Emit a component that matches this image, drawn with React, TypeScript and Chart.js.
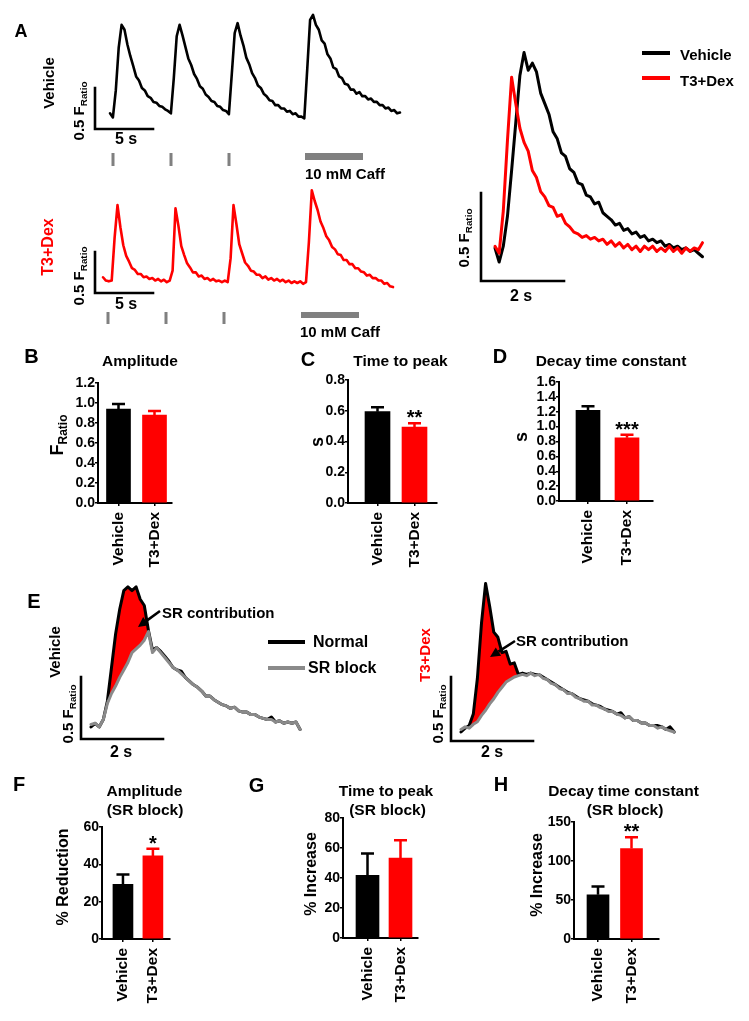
import React, { useEffect, useRef } from "react";
import { Chart, registerables } from "chart.js";

Chart.register(...registerables);

const FONT = '"Liberation Sans", Arial, Helvetica, sans-serif';

// ---------------- Data ----------------
const GROUPS = ["Vehicle", "T3+Dex"];
const GROUP_COLORS = ["#000000", "#ff0000"];

// Panel A: field-stimulated transients + caffeine (sampled every 0.25 s, F_ratio above baseline)
const LONG_DT = 0.25;
const VEH_LONG = [
  0.02, -0.03, 0.30, 0.82, 1.10, 1.04, 0.86, 0.72, 0.60, 0.47, 0.42, 0.33,
  0.30, 0.23, 0.21, 0.16, 0.15, 0.11, 0.10, 0.07, 0.05, 0.02, 0.45, 0.96,
  1.10, 0.97, 0.83, 0.69, 0.61, 0.50, 0.44, 0.35, 0.32, 0.25, 0.22, 0.17,
  0.16, 0.11, 0.10, 0.06, 0.05, 0.01, 0.50, 1.00, 1.12, 0.97, 0.85, 0.70,
  0.62, 0.51, 0.45, 0.36, 0.33, 0.26, 0.23, 0.18, 0.17, 0.12, 0.12, 0.08,
  0.08, 0.04, 0.05, 0.01, 0.02, -0.02, -0.02, -0.04, 0.55, 1.16, 1.22, 1.10,
  1.04, 0.91, 0.87, 0.74, 0.69, 0.58, 0.56, 0.47, 0.45, 0.38, 0.37, 0.31,
  0.31, 0.26, 0.28, 0.23, 0.23, 0.19, 0.20, 0.16, 0.16, 0.12, 0.12, 0.08,
  0.09, 0.05, 0.06, 0.02, 0.03,
];
const T3_LONG = [
  0.07, 0.03, 0.02, 0.03, 0.55, 0.95, 0.68, 0.46, 0.33, 0.26, 0.18, 0.16,
  0.11, 0.11, 0.07, 0.08, 0.05, 0.06, 0.03, 0.05, 0.02, 0.04, 0.01, 0.03,
  0.15, 0.91, 0.70, 0.45, 0.34, 0.24, 0.19, 0.13, 0.13, 0.08, 0.09, 0.05,
  0.06, 0.03, 0.05, 0.02, 0.03, 0.01, 0.03, 0.01, 0.30, 0.95, 0.72, 0.47,
  0.36, 0.25, 0.21, 0.15, 0.14, 0.10, 0.10, 0.06, 0.08, 0.04, 0.06, 0.03,
  0.05, 0.02, 0.04, 0.01, 0.03, 0.00, 0.02, 0.00, 0.02, -0.01, 0.01, 0.50,
  1.13, 1.00, 0.89, 0.75, 0.67, 0.57, 0.52, 0.44, 0.41, 0.35, 0.34, 0.28,
  0.28, 0.23, 0.23, 0.18, 0.18, 0.14, 0.13, 0.09, 0.10, 0.06, 0.06, 0.03,
  0.03, -0.01, 0.00, -0.04, -0.05,
];

// Panel A right: averaged transients overlay (every 0.1 s)
const OVERLAY_DT = 0.1;
const VEH_OVERLAY = [
  0.04, -0.04, 0.05, 0.22, 0.48, 0.75, 1.02, 1.15, 1.05, 1.09,
  1.04, 0.92, 0.86, 0.80, 0.70, 0.66, 0.58, 0.56, 0.49, 0.47,
  0.41, 0.40, 0.34, 0.33, 0.29, 0.30, 0.24, 0.22, 0.20, 0.17,
  0.18, 0.14, 0.15, 0.12, 0.13, 0.10, 0.11, 0.08, 0.09, 0.07,
  0.08, 0.05, 0.06, 0.04, 0.05, 0.03, 0.04, 0.02, 0.03, 0.01, -0.01,
];
const T3_OVERLAY = [
  0.05, 0.01, 0.25, 0.65, 1.01, 0.86, 0.72, 0.64, 0.59, 0.48,
  0.44, 0.36, 0.33, 0.28, 0.27, 0.22, 0.23, 0.18, 0.16, 0.13,
  0.12, 0.10, 0.11, 0.09, 0.10, 0.08, 0.09, 0.06, 0.08, 0.05,
  0.07, 0.04, 0.06, 0.03, 0.05, 0.02, 0.05, 0.03, 0.05, 0.02,
  0.04, 0.02, 0.05, 0.02, 0.04, 0.01, 0.04, 0.02, 0.04, 0.03, 0.07,
];

// Panel E: normal vs SR block (every 0.1 s)
const SR_DT = 0.1;
const VEH_NORMAL = [
  0.00, 0.03, 0.00, 0.06, 0.21, 0.48, 0.75, 0.95, 1.10, 1.13,
  1.10, 1.13, 1.03, 0.98, 0.78, 0.62, 0.64, 0.61, 0.57, 0.53,
  0.48, 0.46, 0.45, 0.40, 0.37, 0.34, 0.32, 0.29, 0.25, 0.25,
  0.22, 0.20, 0.18, 0.17, 0.15, 0.16, 0.13, 0.12, 0.12, 0.10,
  0.10, 0.08, 0.07, 0.06, 0.08, 0.04, 0.05, 0.03, 0.04, 0.03,
  0.04, -0.02,
];
const VEH_SRBLOCK = [
  0.02, 0.03, 0.00, 0.06, 0.19, 0.27, 0.33, 0.40, 0.46, 0.52,
  0.60, 0.63, 0.66, 0.70, 0.77, 0.60, 0.64, 0.60, 0.56, 0.52,
  0.48, 0.46, 0.43, 0.40, 0.37, 0.34, 0.32, 0.29, 0.25, 0.25,
  0.22, 0.20, 0.18, 0.17, 0.15, 0.16, 0.13, 0.12, 0.12, 0.10,
  0.10, 0.08, 0.07, 0.06, 0.06, 0.04, 0.05, 0.03, 0.04, 0.03,
  0.04, -0.02,
];
const T3_NORMAL = [
  0.00, 0.03, 0.05, 0.14, 0.42, 0.85, 1.16, 0.98, 0.78, 0.74,
  0.62, 0.63, 0.53, 0.54, 0.45, 0.46, 0.45, 0.46, 0.45, 0.45,
  0.43, 0.41, 0.39, 0.37, 0.35, 0.33, 0.31, 0.30, 0.28, 0.26,
  0.25, 0.24, 0.22, 0.21, 0.20, 0.18, 0.17, 0.16, 0.14, 0.15,
  0.11, 0.12, 0.09, 0.09, 0.07, 0.07, 0.05, 0.05, 0.05, 0.04,
  0.02, 0.04, 0.00,
];
const T3_SRBLOCK = [
  0.02, 0.04, 0.03, 0.06, 0.08, 0.13, 0.17, 0.22, 0.26, 0.31,
  0.35, 0.39, 0.41, 0.43, 0.44, 0.45, 0.44, 0.46, 0.44, 0.45,
  0.42, 0.41, 0.38, 0.37, 0.34, 0.33, 0.30, 0.30, 0.27, 0.26,
  0.24, 0.24, 0.21, 0.21, 0.19, 0.18, 0.16, 0.16, 0.14, 0.13,
  0.11, 0.12, 0.09, 0.09, 0.07, 0.07, 0.05, 0.05, 0.03, 0.04,
  0.02, 0.01, 0.00,
];

// Bar panels (mean, SEM) for [Vehicle, T3+Dex]
const AMP_MEAN = [0.94, 0.88];
const AMP_SEM = [0.05, 0.04];
const TTP_MEAN = [0.594, 0.494];
const TTP_SEM = [0.028, 0.024];
const TAU_MEAN = [1.22, 0.85];
const TAU_SEM = [0.055, 0.04];
const SR_AMP_MEAN = [29.3, 44.5];
const SR_AMP_SEM = [5.3, 3.8];
const SR_TTP_MEAN = [41.8, 53.3];
const SR_TTP_SEM = [14.5, 11.8];
const SR_TAU_MEAN = [56.7, 116];
const SR_TAU_SEM = [10.7, 14.4];

// ---------------- Components ----------------
type Box = { left: number; top: number; width: number; height: number };
type Series = { values: number[]; color: string; width: number; order: number; fillTo?: number; fillColor?: string };

function TraceChart(props: { box: Box; originX: number; originY: number; ppx: number; ppy: number; dt: number; series: Series[] }) {
  const ref = useRef<HTMLCanvasElement | null>(null);
  const { box } = props;
  useEffect(() => {
    const { originX, originY, ppx, ppy, dt, series } = props;
    const pad = 6;
    const xMin = (box.left + pad - originX) / ppx;
    const xMax = (box.left + box.width - pad - originX) / ppx;
    const yMax = (originY - (box.top + pad)) / ppy;
    const yMin = (originY - (box.top + box.height - pad)) / ppy;
    const chart = new Chart(ref.current as HTMLCanvasElement, {
      type: "line",
      data: {
        datasets: series.map((s) => ({
          data: s.values.map((v, i) => ({ x: i * dt, y: v })),
          borderColor: s.color,
          borderWidth: s.width,
          pointRadius: 0,
          tension: 0,
          borderJoinStyle: "round",
          borderCapStyle: "round",
          order: s.order,
          backgroundColor: s.fillColor || "transparent",
          fill: s.fillTo !== undefined ? { target: s.fillTo, above: s.fillColor, below: "rgba(0,0,0,0)" } : false,
        })) as any,
      },
      options: {
        animation: false,
        responsive: false,
        devicePixelRatio: 1,
        events: [],
        layout: { padding: pad },
        scales: {
          x: { type: "linear", display: false, min: xMin, max: xMax },
          y: { type: "linear", display: false, min: yMin, max: yMax },
        },
        plugins: {
          legend: { display: false },
          tooltip: { enabled: false },
          filler: { drawTime: "beforeDatasetsDraw" } as any,
        },
      } as any,
    });
    return () => chart.destroy();
  }, []);
  return (
    <canvas
      ref={ref}
      width={box.width}
      height={box.height}
      style={{ position: "absolute", left: box.left, top: box.top, width: box.width, height: box.height }}
    />
  );
}

type BarSpec = {
  canvas: Box;
  area: { left: number; top: number; right: number; bottom: number };
  centers: number[];
  barWidth: number;
  yMax: number;
  yStep: number;
  decimals: number;
  means: number[];
  sems: number[];
  stars: string[];
  yTitle: { text: string; sub?: string; x: number; y: number; size: number };
};

function BarChart({ spec }: { spec: BarSpec }) {
  const ref = useRef<HTMLCanvasElement | null>(null);
  const c = spec.canvas;
  useEffect(() => {
    const a = spec.area;
    const padTop = a.top - c.top;
    const padRight = c.left + c.width - a.right;
    const yw = a.left - c.left;
    const xh = c.top + c.height - a.bottom;
    const ppu = spec.centers[1] - spec.centers[0];
    const xMin = 1 - (spec.centers[0] - a.left) / ppu;
    const xMax = 2 + (a.right - spec.centers[1]) / ppu;

    const extras = {
      id: "barExtras",
      afterDatasetsDraw(chart: any) {
        const ctx = chart.ctx as CanvasRenderingContext2D;
        const meta = chart.getDatasetMeta(0);
        const ys = chart.scales.y;
        spec.means.forEach((m, i) => {
          const el = meta.data[i];
          const x = el.x;
          const yTop = ys.getPixelForValue(m);
          const yErr = ys.getPixelForValue(m + spec.sems[i]);
          ctx.save();
          ctx.strokeStyle = GROUP_COLORS[i];
          ctx.lineWidth = 2.5;
          ctx.beginPath();
          ctx.moveTo(x, yTop);
          ctx.lineTo(x, yErr);
          ctx.moveTo(x - 6.5, yErr);
          ctx.lineTo(x + 6.5, yErr);
          ctx.stroke();
          if (spec.stars[i]) {
            ctx.fillStyle = "#000";
            ctx.font = `bold 20px ${FONT}`;
            ctx.textAlign = "center";
            ctx.textBaseline = "alphabetic";
            ctx.fillText(spec.stars[i], x, yErr + 1);
          }
          ctx.restore();
        });
      },
      afterDraw(chart: any) {
        const ctx = chart.ctx as CanvasRenderingContext2D;
        const t = spec.yTitle;
        ctx.save();
        ctx.translate(t.x - c.left, t.y - c.top);
        ctx.rotate(-Math.PI / 2);
        ctx.fillStyle = "#000";
        ctx.font = `bold ${t.size}px ${FONT}`;
        const w1 = ctx.measureText(t.text).width;
        const subSize = Math.round(t.size * 0.65);
        let w2 = 0;
        if (t.sub) {
          ctx.font = `bold ${subSize}px ${FONT}`;
          w2 = ctx.measureText(t.sub).width;
        }
        const x0 = -(w1 + w2) / 2;
        ctx.textAlign = "left";
        ctx.textBaseline = "middle";
        ctx.font = `bold ${t.size}px ${FONT}`;
        ctx.fillText(t.text, x0, 0);
        if (t.sub) {
          ctx.font = `bold ${subSize}px ${FONT}`;
          ctx.fillText(t.sub, x0 + w1, t.size * 0.32);
        }
        ctx.restore();
      },
    };

    const chart = new Chart(ref.current as HTMLCanvasElement, {
      type: "bar",
      data: {
        datasets: [
          {
            data: spec.means.map((m, i) => ({ x: i + 1, y: m })),
            backgroundColor: GROUP_COLORS,
            borderWidth: 0,
            barThickness: spec.barWidth,
          },
        ] as any,
      },
      options: {
        animation: false,
        responsive: false,
        devicePixelRatio: 1,
        events: [],
        layout: { padding: { top: padTop, right: padRight, left: 0, bottom: 0 } },
        scales: {
          x: {
            type: "linear",
            offset: false,
            min: xMin,
            max: xMax,
            grid: { display: true, drawOnChartArea: false, drawTicks: true, tickLength: 3, color: "#000", lineWidth: 1.5, offset: false },
            border: { display: true, color: "#000", width: 2 },
            afterBuildTicks: (s: any) => {
              s.ticks = [{ value: 1 }, { value: 2 }];
            },
            afterFit: (s: any) => {
              s.height = xh;
            },
            ticks: {
              autoSkip: false,
              minRotation: 90,
              maxRotation: 90,
              padding: 6,
              color: "#000",
              font: { family: FONT, size: 15.5, weight: "bold" },
              callback: (_v: any, i: number) => GROUPS[i],
            },
          },
          y: {
            min: 0,
            max: spec.yMax,
            afterFit: (s: any) => {
              s.width = yw;
            },
            grid: { display: true, drawOnChartArea: false, drawTicks: true, tickLength: 3, color: "#000", lineWidth: 1.5 },
            border: { display: true, color: "#000", width: 2 },
            ticks: {
              stepSize: spec.yStep,
              autoSkip: false,
              padding: 0,
              color: "#000",
              font: { family: FONT, size: 14, weight: "bold" },
              callback: (v: any) => Number(v).toFixed(spec.decimals),
            },
          },
        },
        plugins: { legend: { display: false }, tooltip: { enabled: false } },
      } as any,
      plugins: [extras],
    });
    return () => chart.destroy();
  }, []);
  return (
    <canvas
      ref={ref}
      width={c.width}
      height={c.height}
      style={{ position: "absolute", left: c.left, top: c.top, width: c.width, height: c.height }}
    />
  );
}

function Lbl(props: { x: number; y: number; text: string; size?: number; color?: string; anchor?: "center" | "left"; rot?: boolean; sub?: string }) {
  const { x, y, text, size = 15, color = "#000", anchor = "center", rot = false, sub } = props;
  const tr = `translate(${anchor === "center" ? "-50%" : "0"}, -50%)${rot ? " rotate(-90deg)" : ""}`;
  return (
    <div
      style={{
        position: "absolute",
        left: x,
        top: y,
        transform: tr,
        transformOrigin: anchor === "center" ? "50% 50%" : "0 50%",
        whiteSpace: "nowrap",
        fontFamily: FONT,
        fontWeight: "bold",
        fontSize: size,
        lineHeight: 1,
        color,
      }}
    >
      {text}
      {sub ? <span style={{ fontSize: "0.66em", position: "relative", top: "0.35em" }}>{sub}</span> : null}
    </div>
  );
}

function Arrow({ x1, y1, x2, y2 }: { x1: number; y1: number; x2: number; y2: number }) {
  const dx = x2 - x1;
  const dy = y2 - y1;
  const len = Math.hypot(dx, dy);
  const ux = dx / len;
  const uy = dy / len;
  const bx = x2 - ux * 10;
  const by = y2 - uy * 10;
  const nx = -uy * 5;
  const ny = ux * 5;
  return (
    <g>
      <line x1={x1} y1={y1} x2={bx} y2={by} stroke="#000" strokeWidth={2.5} />
      <polygon points={`${x2},${y2} ${bx + nx},${by + ny} ${bx - nx},${by - ny}`} fill="#000" />
    </g>
  );
}

const BAR_B: BarSpec = {
  canvas: { left: 40, top: 370, width: 145, height: 210 },
  area: { left: 98, top: 383, right: 172, bottom: 503 },
  centers: [118.5, 154.5],
  barWidth: 24,
  yMax: 1.2,
  yStep: 0.2,
  decimals: 1,
  means: AMP_MEAN,
  sems: AMP_SEM,
  stars: ["", ""],
  yTitle: { text: "F", sub: "Ratio", x: 58, y: 435, size: 18 },
};
const BAR_C: BarSpec = {
  canvas: { left: 300, top: 365, width: 150, height: 215 },
  area: { left: 348, top: 380, right: 437, bottom: 503 },
  centers: [377.5, 414.5],
  barWidth: 25,
  yMax: 0.8,
  yStep: 0.2,
  decimals: 1,
  means: TTP_MEAN,
  sems: TTP_SEM,
  stars: ["", "**"],
  yTitle: { text: "s", x: 318, y: 442, size: 18 },
};
const BAR_D: BarSpec = {
  canvas: { left: 505, top: 365, width: 160, height: 215 },
  area: { left: 559, top: 382, right: 653, bottom: 501 },
  centers: [588, 627],
  barWidth: 24,
  yMax: 1.6,
  yStep: 0.2,
  decimals: 1,
  means: TAU_MEAN,
  sems: TAU_SEM,
  stars: ["", "***"],
  yTitle: { text: "s", x: 522, y: 437, size: 18 },
};
const BAR_F: BarSpec = {
  canvas: { left: 50, top: 815, width: 130, height: 200 },
  area: { left: 102, top: 827, right: 170, bottom: 939 },
  centers: [123, 153],
  barWidth: 20,
  yMax: 60,
  yStep: 20,
  decimals: 0,
  means: SR_AMP_MEAN,
  sems: SR_AMP_SEM,
  stars: ["", "*"],
  yTitle: { text: "% Reduction", x: 64, y: 877, size: 16 },
};
const BAR_G: BarSpec = {
  canvas: { left: 290, top: 805, width: 140, height: 210 },
  area: { left: 343, top: 818, right: 418, bottom: 938 },
  centers: [367.5, 400.5],
  barWidth: 23,
  yMax: 80,
  yStep: 20,
  decimals: 0,
  means: SR_TTP_MEAN,
  sems: SR_TTP_SEM,
  stars: ["", ""],
  yTitle: { text: "% Increase", x: 312, y: 874, size: 16 },
};
const BAR_H: BarSpec = {
  canvas: { left: 520, top: 810, width: 150, height: 205 },
  area: { left: 574, top: 822, right: 659, bottom: 939 },
  centers: [598, 631.5],
  barWidth: 22,
  yMax: 150,
  yStep: 50,
  decimals: 0,
  means: SR_TAU_MEAN,
  sems: SR_TAU_SEM,
  stars: ["", "**"],
  yTitle: { text: "% Increase", x: 538, y: 875, size: 16 },
};

export default function App() {
  const stimVeh = [113, 171, 229];
  const stimT3 = [108, 166, 224];
  return (
    <div
      style={{
        position: "absolute",
        left: 0,
        top: 0,
        width: 749,
        height: 1021,
        background: "#fff",
        overflow: "hidden",
        fontFamily: FONT,
      }}
    >
      {/* Panel A traces */}
      <TraceChart
        box={{ left: 100, top: 4, width: 312, height: 126 }}
        originX={110}
        originY={115}
        ppx={11.6}
        ppy={82}
        dt={LONG_DT}
        series={[{ values: VEH_LONG, color: "#000", width: 2.6, order: 0 }]}
      />
      <TraceChart
        box={{ left: 95, top: 180, width: 310, height: 115 }}
        originX={103}
        originY={283}
        ppx={11.6}
        ppy={82}
        dt={LONG_DT}
        series={[{ values: T3_LONG, color: "#ff0000", width: 2.6, order: 0 }]}
      />
      <TraceChart
        box={{ left: 485, top: 40, width: 230, height: 235 }}
        originX={495}
        originY={255}
        ppx={41.5}
        ppy={176}
        dt={OVERLAY_DT}
        series={[
          { values: T3_OVERLAY, color: "#ff0000", width: 3, order: 0 },
          { values: VEH_OVERLAY, color: "#000", width: 3, order: 1 },
        ]}
      />
      {/* Panel E traces */}
      <TraceChart
        box={{ left: 83, top: 575, width: 225, height: 165 }}
        originX={91}
        originY={727}
        ppx={41}
        ppy={124}
        dt={SR_DT}
        series={[
          { values: VEH_NORMAL, color: "#000", width: 3, order: 1, fillTo: 1, fillColor: "#ff0000" },
          { values: VEH_SRBLOCK, color: "#8a8a8a", width: 3, order: 0 },
        ]}
      />
      <TraceChart
        box={{ left: 453, top: 572, width: 230, height: 168 }}
        originX={461}
        originY={732}
        ppx={41}
        ppy={128}
        dt={SR_DT}
        series={[
          { values: T3_NORMAL, color: "#000", width: 3, order: 1, fillTo: 1, fillColor: "#ff0000" },
          { values: T3_SRBLOCK, color: "#8a8a8a", width: 3, order: 0 },
        ]}
      />

      {/* Bar panels */}
      <BarChart spec={BAR_B} />
      <BarChart spec={BAR_C} />
      <BarChart spec={BAR_D} />
      <BarChart spec={BAR_F} />
      <BarChart spec={BAR_G} />
      <BarChart spec={BAR_H} />

      {/* Scale bars, stimulus marks, legend lines, arrows */}
      <svg width={749} height={1021} style={{ position: "absolute", left: 0, top: 0, pointerEvents: "none" }}>
        <g fill="none" stroke="#000" strokeWidth={2.6} strokeLinecap="square">
          <polyline points="95,88 95,129 153,129" />
          <polyline points="95,252 95,293 153,293" />
          <polyline points="481,193 481,281 564,281" />
          <polyline points="81,677 81,739 163,739" />
          <polyline points="451,677 451,741 533,741" />
        </g>
        {stimVeh.map((x) => (
          <rect key={"sv" + x} x={x - 1.5} y={153} width={3} height={13} fill="#808080" />
        ))}
        {stimT3.map((x) => (
          <rect key={"st" + x} x={x - 1.5} y={312} width={3} height={12} fill="#808080" />
        ))}
        <rect x={305} y={153} width={58} height={7} fill="#808080" />
        <rect x={301} y={312} width={58} height={6} fill="#808080" />
        <line x1={642} y1={53} x2={670} y2={53} stroke="#000" strokeWidth={4} />
        <line x1={642} y1={78} x2={670} y2={78} stroke="#ff0000" strokeWidth={4} />
        <line x1={268} y1={642} x2={305} y2={642} stroke="#000" strokeWidth={4} />
        <line x1={268} y1={668} x2={305} y2={668} stroke="#8a8a8a" strokeWidth={4} />
        <Arrow x1={160} y1={611} x2={138} y2={627} />
        <Arrow x1={515} y1={641} x2={490} y2={657} />
      </svg>

      {/* Panel A labels */}
      <Lbl x={21} y={31} text="A" size={18} />
      <Lbl x={48} y={83} text="Vehicle" rot />
      <Lbl x={78} y={111} text="0.5 F" sub="Ratio" rot />
      <Lbl x={126} y={139} text="5 s" size={16} />
      <Lbl x={305} y={173} text="10 mM Caff" anchor="left" />
      <Lbl x={48} y={247} text="T3+Dex" rot color="#ff0000" size={16} />
      <Lbl x={78} y={276} text="0.5 F" sub="Ratio" rot />
      <Lbl x={126} y={304} text="5 s" size={16} />
      <Lbl x={300} y={331} text="10 mM Caff" anchor="left" />
      <Lbl x={463} y={238} text="0.5 F" sub="Ratio" rot />
      <Lbl x={521} y={296} text="2 s" size={16} />
      <Lbl x={680} y={54} text="Vehicle" anchor="left" />
      <Lbl x={680} y={80} text="T3+Dex" anchor="left" />

      {/* Panels B-D labels */}
      <Lbl x={31.5} y={356} text="B" size={20} />
      <Lbl x={140} y={361} text="Amplitude" size={15.5} />
      <Lbl x={308} y={359} text="C" size={20} />
      <Lbl x={400.5} y={361} text="Time to peak" size={15.5} />
      <Lbl x={500} y={356} text="D" size={20} />
      <Lbl x={611} y={361} text="Decay time constant" size={15.5} />

      {/* Panel E labels */}
      <Lbl x={34} y={601} text="E" size={20} />
      <Lbl x={54} y={652} text="Vehicle" rot />
      <Lbl x={67} y={714} text="0.5 F" sub="Ratio" rot />
      <Lbl x={121} y={752} text="2 s" size={16} />
      <Lbl x={162} y={612} text="SR contribution" anchor="left" size={15} />
      <Lbl x={313} y={642} text="Normal" anchor="left" size={16} />
      <Lbl x={308} y={668} text="SR block" anchor="left" size={16} />
      <Lbl x={424} y={655} text="T3+Dex" rot color="#ff0000" />
      <Lbl x={437} y={714} text="0.5 F" sub="Ratio" rot />
      <Lbl x={492} y={752} text="2 s" size={16} />
      <Lbl x={516} y={640} text="SR contribution" anchor="left" size={15} />

      {/* Panels F-H labels */}
      <Lbl x={19} y={784} text="F" size={20} />
      <Lbl x={144.5} y={791} text="Amplitude" size={15.5} />
      <Lbl x={145} y={810} text="(SR block)" size={15.5} />
      <Lbl x={256.5} y={785} text="G" size={20} />
      <Lbl x={386} y={791} text="Time to peak" size={15.5} />
      <Lbl x={387.5} y={810} text="(SR block)" size={15.5} />
      <Lbl x={501} y={784} text="H" size={20} />
      <Lbl x={623.5} y={791} text="Decay time constant" size={15.5} />
      <Lbl x={625} y={810} text="(SR block)" size={15.5} />
    </div>
  );
}
